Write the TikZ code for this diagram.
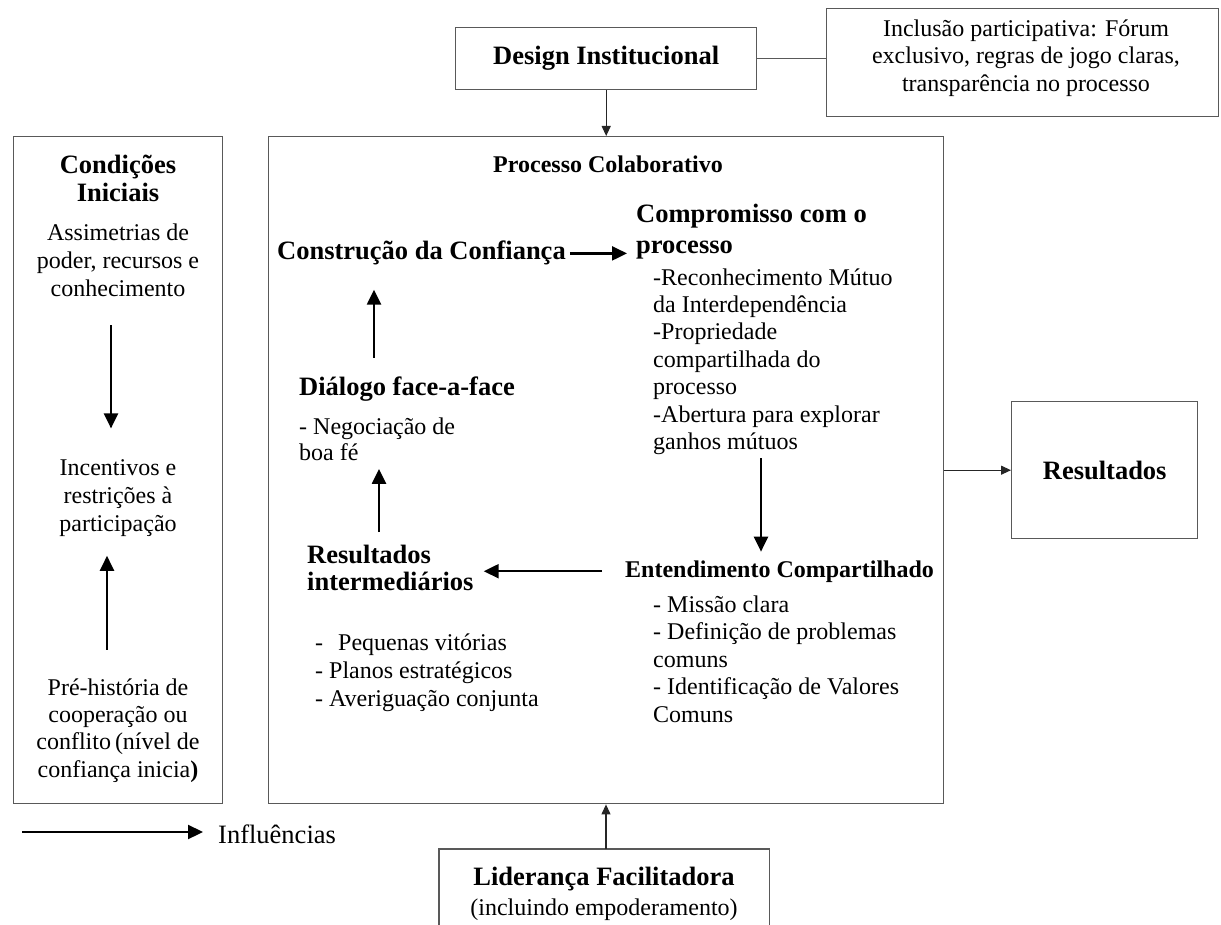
\documentclass[tikz,border=0pt]{standalone}
\usepackage{fontspec}
\setmainfont{Liberation Serif}
\usetikzlibrary{arrows.meta,calc}
\newcommand\HeadFont{\fontsize{26.5}{30}\selectfont\bfseries}
\newcommand\MidHead{\fontsize{24}{27.5}\selectfont\bfseries}
\newcommand\BodyFont{\fontsize{24}{27.5}\selectfont}
\tikzset{
  boxline/.style={draw=black!65, line width=1.4pt},
  box/.style={boxline, inner sep=0pt, anchor=north west},
  txt/.style={inner sep=0pt, align=left, anchor=north west},
  ctxt/.style={inner sep=0pt, align=center, anchor=north},
  bigarrow/.style={-{Triangle[length=15pt,width=14pt]}, line width=2.3pt},
  thinarrow/.style={-{Triangle[length=10pt,width=9pt]}, line width=1.1pt, draw=black!85},
}
\begin{document}
\begin{tikzpicture}[x=1pt, y=-1pt]
\useasboundingbox (0,0) rectangle (1221,925);

% ---------- boxes ----------
\node[box, minimum width=209pt, minimum height=667pt] (ci) at (13,136) {};
\node[box, minimum width=675pt, minimum height=667pt] (proc) at (268,136) {};
\node[box, minimum width=301pt, minimum height=62pt, font=\HeadFont] (di) at (455,27) {Design Institucional};
\node[box, minimum width=392pt, minimum height=108pt] (inc) at (826,8) {};
\node[ctxt, font=\BodyFont] (inct) at (1026,17)
  {\strut Inclusão participativa: Fórum\\exclusivo, regras de jogo claras,\\transparência no processo\strut};
\node[box, minimum width=186pt, minimum height=137pt, font=\HeadFont] (res) at (1011,401) {Resultados};
\node[inner sep=0pt, minimum width=330pt, minimum height=90pt, anchor=north] (lid) at (604,849) {};
\draw[boxline] (lid.south west) -- (lid.north west) -- (lid.north east) -- (lid.south east);
\node[inner sep=0pt, anchor=base, font=\HeadFont] (lidt) at (604,885) {Liderança Facilitadora};
\node[inner sep=0pt, anchor=base, font=\BodyFont] (lids) at (604,915) {(incluindo empoderamento)};

% ---------- Condições iniciais ----------
\node[ctxt, font={\fontsize{26.5}{28}\selectfont\bfseries}] (ciT) at (118,153.4) {\strut Condições\\Iniciais\strut};
\node[ctxt, font={\fontsize{24}{28.3}\selectfont}] (ciA) at (118,220.2) {\strut Assimetrias de\\poder, recursos e\\conhecimento\strut};
\node[ctxt, font={\fontsize{24}{28}\selectfont}] (ciB) at (118,455.4) {\strut Incentivos e\\restrições à\\participação\strut};
\node[ctxt, font={\fontsize{24}{27.3}\selectfont}] (ciC) at (118,675.9) {\strut Pré-história de\\cooperação ou\\conflito\,(nível de\\confiança inicia\textbf{)}\strut};
\draw[bigarrow, shorten <=20pt, shorten >=27pt] ([xshift=-7pt]ciA.south) -- ([xshift=-7pt]ciB.north);
\draw[bigarrow, shorten <=26pt, shorten >=16pt] ([xshift=-11pt]ciC.north) -- ([xshift=-11pt]ciB.south);

% ---------- Processo colaborativo ----------
\node[inner sep=0pt, anchor=base, font=\MidHead] (pt) at (608,173) {Processo Colaborativo};
\node[inner sep=0pt, anchor=base west, font=\HeadFont] (conf) at (277,260) {Construção da Confiança};
\node[txt, font={\fontsize{26.5}{31}\selectfont\bfseries}] (comph) at (636,200.3) {\strut Compromisso com o\\processo\strut};
\node[txt, font={\fontsize{24}{27.4}\selectfont}] (compb) at (653,265.8)
  {\strut -Reconhecimento Mútuo\\da Interdependência\\-Propriedade\\compartilhada do\\processo\\-Abertura para explorar\\ganhos mútuos\strut};
\node[inner sep=0pt, anchor=base west, font=\MidHead] (ent) at (625,577) {Entendimento Compartilhado};
\node[txt, font={\fontsize{24}{27.5}\selectfont}] (entb) at (653,592.75)
  {\strut - Missão clara\\- Definição de problemas\\comuns\\- Identificação de Valores\\Comuns\strut};
\node[txt, font={\fontsize{26.5}{27}\selectfont\bfseries}] (resint) at (307,544.1) {\strut Resultados\\intermediários\strut};
\node[txt, font={\fontsize{24}{28}\selectfont}] (resb) at (315,630.4)
  {\strut -\hspace{15pt}Pequenas vitórias\\- Planos estratégicos\\- Averiguação conjunta\strut};
\node[inner sep=0pt, anchor=base west, font=\HeadFont] (dial) at (299,395) {Diálogo face-a-face};
\node[txt, font={\fontsize{24}{26.5}\selectfont}] (dialb) at (299,415.5) {\strut - Negociação de\\boa fé\strut};

\draw[bigarrow, shorten <=4pt, shorten >=9pt] (conf.east) -- (conf.east -| comph.west);
\draw[bigarrow, shorten >=8.5pt] ([xshift=108pt]compb.south west) -- ([xshift=108pt]compb.south west |- ent.north);
\draw[bigarrow, shorten <=23pt, shorten >=10pt] (ent.west) -- (ent.west -| resint.east);
\draw[bigarrow, shorten <=12pt] ([xshift=72pt]resint.north west) -- ([xshift=72pt]resint.north west |- dialb.south);
\draw[bigarrow, shorten <=18.5pt, shorten >=24pt] ([xshift=75pt]dial.north west) -- ([xshift=75pt]dial.north west |- conf.south);

% ---------- outer connectors ----------
\draw[thinarrow] (di.south) -- (di.south |- proc.north);
\draw[boxline, line width=1.1pt] (di.east) -- (di.east -| inc.west);
\draw[thinarrow] (proc.east) -- (res.west);
\draw[thinarrow] ([xshift=2pt]lid.north) -- ([xshift=2pt]lid.north |- proc.south);

% ---------- legend ----------
\coordinate (legstart) at (22,832);
\node[inner sep=0pt, anchor=base west, font={\fontsize{26.5}{30}\selectfont}] (infl) at (218,843) {Influências};
\draw[bigarrow, shorten >=15pt] (legstart) -- (legstart -| infl.west);
\end{tikzpicture}
\end{document}
